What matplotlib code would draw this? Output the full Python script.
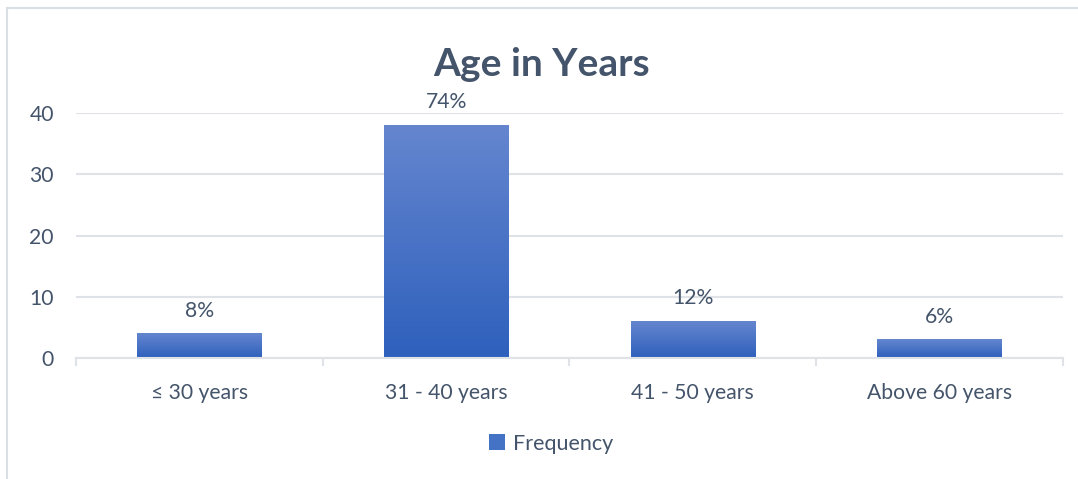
import matplotlib.pyplot as plt
import numpy as np
from matplotlib.patches import Rectangle
from matplotlib.colors import LinearSegmentedColormap

plt.rcParams["font.family"] = ["Lato", "DejaVu Sans"]

CATEGORIES = ["≤ 30 years", "31 - 40 years", "41 - 50 years", "Above 60 years"]
FREQUENCY = [4, 38, 6, 3]
PERCENT_LABELS = ["8%", "74%", "12%", "6%"]

TEXT_COLOR = "#44546a"
GRID_COLOR = "#dfe2e7"
BAR_TOP = "#6586cf"
BAR_BOTTOM = "#2e60bc"
LABEL_SIZE = 15.2

fig = plt.figure(figsize=(10.78, 4.79), dpi=100)
ax = fig.add_axes([0.0705, 0.2526, 0.9155, 0.5114])

# frame around the chart area (only top and left show)
fig.add_artist(plt.Line2D([0.0065, 1.0], [0.983, 0.983], color="#dadfe5", lw=1.5,
                          transform=fig.transFigure))
fig.add_artist(plt.Line2D([0.0065, 0.0065], [0.0, 0.983], color="#dadfe5", lw=1.5,
                          transform=fig.transFigure))

x = np.arange(len(CATEGORIES))
width = 0.505
cmap = LinearSegmentedColormap.from_list("bar_grad", [BAR_BOTTOM, BAR_TOP])
grad = np.linspace(0, 1, 256).reshape(-1, 1)

bars = ax.bar(x, FREQUENCY, width=width, color="none", zorder=3)
for rect, label in zip(bars, PERCENT_LABELS):
    x0, h = rect.get_x(), rect.get_height()
    ax.imshow(grad, cmap=cmap, origin="lower", aspect="auto",
              extent=[x0, x0 + rect.get_width(), 0, h], zorder=3)
    ax.text(x0 + rect.get_width() / 2, h + 2.1, label, ha="center", va="bottom",
            fontsize=LABEL_SIZE, color=TEXT_COLOR)

ax.set_xlim(-0.5, len(CATEGORIES) - 0.5)
ax.set_ylim(0, 40)
ax.set_yticks([0, 10, 20, 30, 40])
ax.yaxis.grid(True, color=GRID_COLOR, lw=1.5, zorder=0)
ax.set_axisbelow(True)

for side in ["top", "right", "left"]:
    ax.spines[side].set_visible(False)
ax.spines["bottom"].set_color(GRID_COLOR)
ax.spines["bottom"].set_linewidth(1.5)
ax.spines["bottom"].set_zorder(4)

ax.set_xticks(x)
ax.set_xticklabels(CATEGORIES)
ax.set_xticks(np.arange(-0.5, len(CATEGORIES)), minor=True)
ax.tick_params(axis="x", which="major", length=0, pad=18, labelsize=LABEL_SIZE,
               labelcolor=TEXT_COLOR)
ax.tick_params(axis="x", which="minor", length=6, width=1.5, color=GRID_COLOR)
ax.tick_params(axis="y", length=0, pad=16, labelsize=LABEL_SIZE, labelcolor=TEXT_COLOR)

fig.text(0.502, 0.866, "Age in Years", ha="center", va="center", fontsize=28,
         fontweight="bold", color=TEXT_COLOR)

handle = Rectangle((0, 0), 1, 1, facecolor="#4472c4")
fig.legend([handle], ["Frequency"], loc="center", bbox_to_anchor=(0.511, 0.074),
           frameon=False, fontsize=15.5, labelcolor=TEXT_COLOR,
           handlelength=0.75, handleheight=0.75, handletextpad=0.35)

fig.savefig("out.png", dpi=100)
